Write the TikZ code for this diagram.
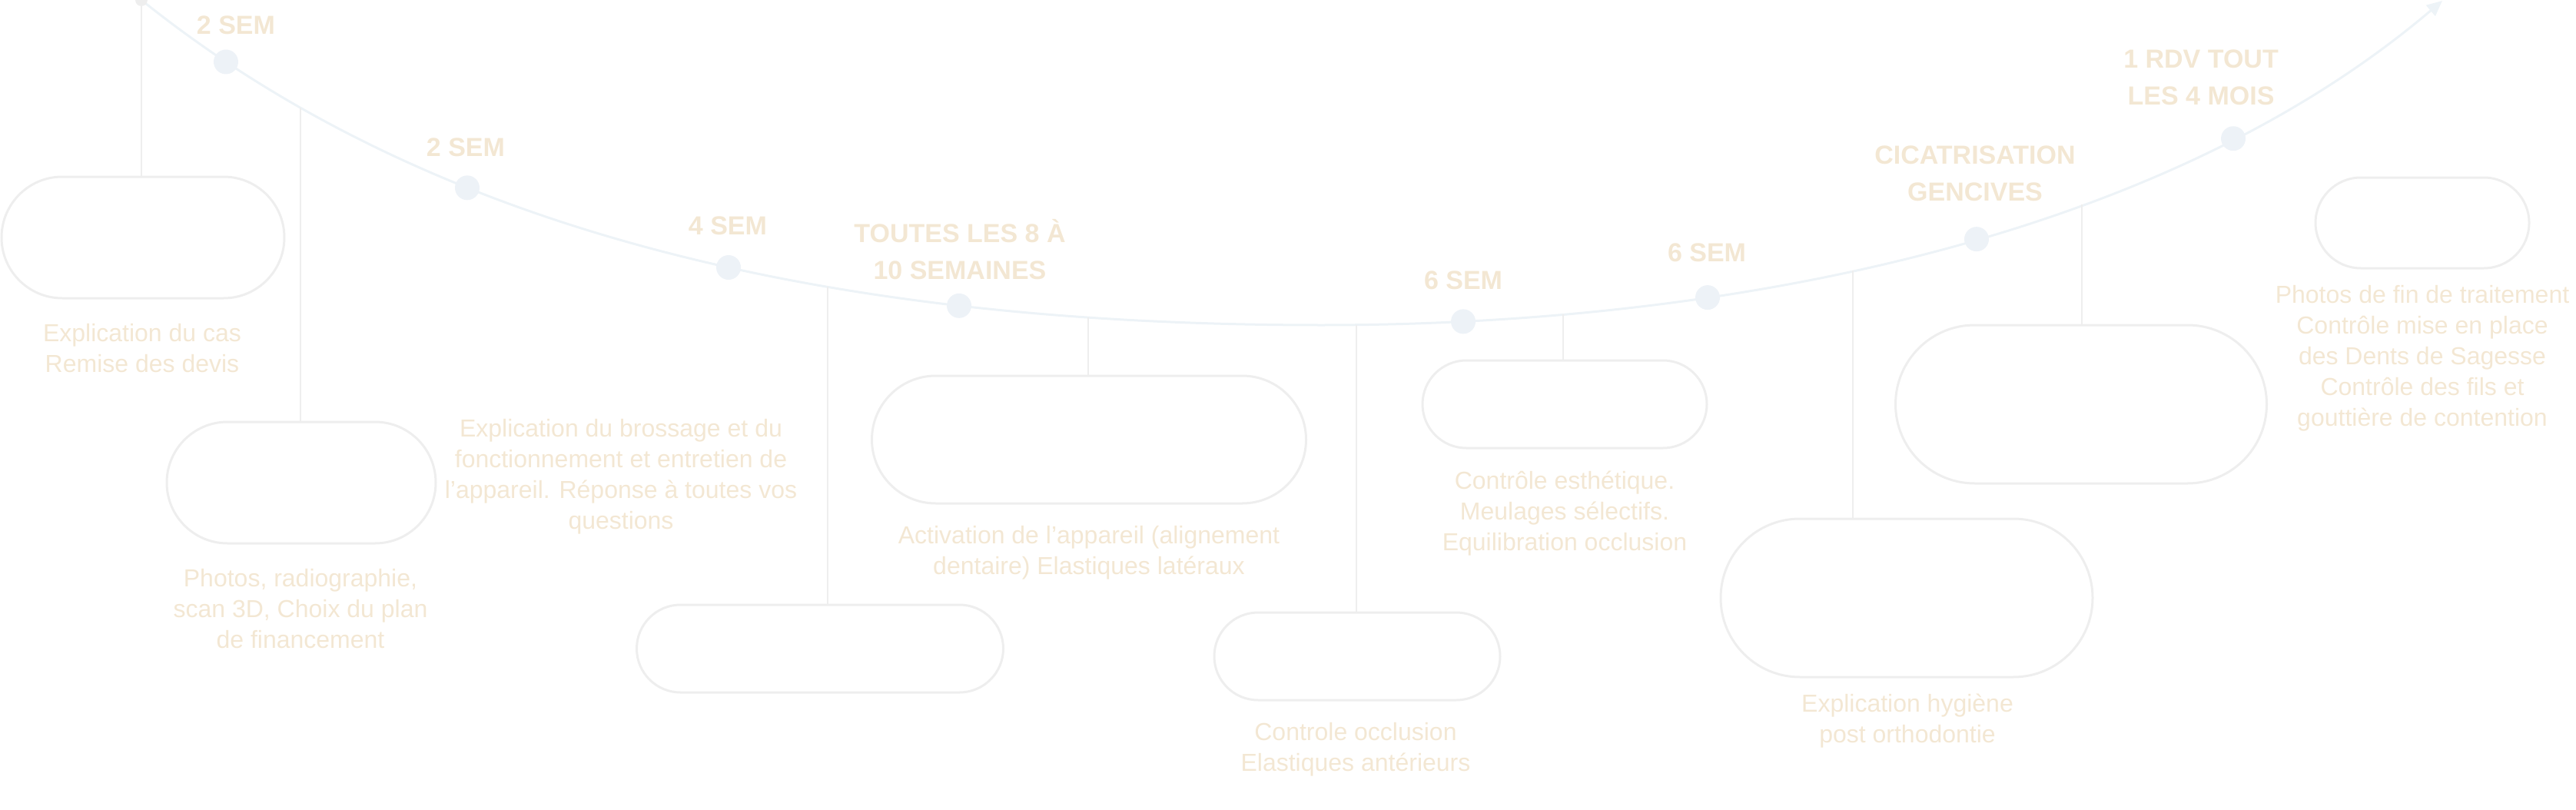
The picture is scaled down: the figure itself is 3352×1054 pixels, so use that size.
\documentclass[tikz,border=0pt]{standalone}
\usepackage{fontspec}
\setmainfont{Liberation Sans}
\usetikzlibrary{shapes.misc,arrows.meta,intersections}
\definecolor{txt}{RGB}{243,231,211}
\definecolor{ln}{RGB}{238,238,238}
\definecolor{cv}{RGB}{237,243,247}
\definecolor{dt}{RGB}{237,242,247}
\begin{document}
\begin{tikzpicture}[x=1pt,y=-1pt,
  box/.style={draw=ln, line width=3pt, rounded rectangle, inner sep=0pt},
  desc/.style={text=txt, align=center, font=\fontsize{32}{40}\selectfont, inner sep=0pt},
  lab/.style={text=txt, align=center, font=\fontsize{34}{48}\selectfont\bfseries, inner sep=0pt},
  dot/.style={circle, fill=dt, minimum size=32pt, inner sep=0pt},
  stem/.style={draw=ln, line width=2pt},
  curve/.style={draw=cv, line width=3pt}]
\useasboundingbox (0,0) rectangle (3352,1054);

% curve
\coordinate (c0) at (184,0);
\coordinate (cmid) at (1720,423);
\coordinate (cend) at (3178,1);
\draw[curve, name path=crv, -{Triangle[length=20pt,width=18pt]}]
  (c0) .. controls (580,318) and (1120,423) .. (cmid)
       .. controls (2220,423) and (2800,322) .. (cend);

% points on the curve (dots p1..p8, stem tops s2..s8)
\foreach \n/\xx in {p1/294, p2/608, p3/948, p4/1248, p5/1904, p6/2222, p7/2572, p8/2906,
                    s2/391, s3/1077, s4/1416, s5/1765, s6/2034, s7/2411, s8/2709} {
  \path[name path=probe] (\xx,-30) -- (\xx,1100);
  \path[name intersections={of=crv and probe, by={\n}}];
}

% boxes
\node[box, minimum width=368pt, minimum height=158pt] (b1) at (186,309) {};
\node[box, minimum width=350pt, minimum height=158pt] (b2) at (392,628) {};
\node[box, minimum width=477pt, minimum height=114pt] (b3) at (1067,844) {};
\node[box, minimum width=565pt, minimum height=166pt] (b4) at (1417,572) {};
\node[box, minimum width=372pt, minimum height=114pt] (b5) at (1766,854) {};
\node[box, minimum width=370pt, minimum height=114pt] (b6) at (2036,526) {};
\node[box, minimum width=484pt, minimum height=206pt] (b7) at (2481,778) {};
\node[box, minimum width=483pt, minimum height=206pt] (b8) at (2708,526) {};
\node[box, minimum width=278pt, minimum height=118pt] (b9) at (3152,290) {};

% stems
\draw[stem] (c0) -- (c0 |- b1.north);
\draw[stem] (s2) -- (s2 |- b2.north);
\draw[stem] (s3) -- (s3 |- b3.north);
\draw[stem] (s4) -- (s4 |- b4.north);
\draw[stem] (s5) -- (s5 |- b5.north);
\draw[stem] (s6) -- (s6 |- b6.north);
\draw[stem] (s7) -- (s7 |- b7.north);
\draw[stem] (s8) -- (s8 |- b8.north);

% dots
\node[circle, fill=ln, minimum size=16pt, inner sep=0pt] (d0) at (c0) {};
\node[dot] (d1) at (p1) {};
\node[dot] (d2) at (p2) {};
\node[dot] (d3) at (p3) {};
\node[dot] (d4) at (p4) {};
\node[dot] (d5) at (p5) {};
\node[dot] (d6) at (p6) {};
\node[dot] (d7) at (p7) {};
\node[dot] (d8) at (p8) {};

% labels
\node[lab] (l1) at (307,33) {2 SEM};
\node[lab] (l2) at (606,192) {2 SEM};
\node[lab] (l3) at (947,294) {4 SEM};
\node[lab] (l4) at (1249,325) {TOUTES LES 8 À\\10 SEMAINES};
\node[lab] (l5) at (1904,365) {6 SEM};
\node[lab] (l6) at (2221,329) {6 SEM};
\node[lab] (l7) at (2570,226) {CICATRISATION\\GENCIVES};
\node[lab] (l8) at (2864,101) {1 RDV TOUT\\LES 4 MOIS};

% descriptions
\node[desc] (t1) at (185,453) {Explication du cas\\Remise des devis};
\node[desc] (t2) at (391,792) {Photos, radiographie,\\scan 3D, Choix du plan\\de financement};
\node[desc] (t3) at (808,620) {Explication du brossage et du\\fonctionnement et entretien de\\l’appareil. Réponse à toutes vos\\questions};
\node[desc] (t4) at (1417,719) {Activation de l’appareil (alignement\\dentaire) Elastiques latéraux};
\node[desc] (t5) at (1764,975) {Controle occlusion\\Elastiques antérieurs};
\node[desc] (t6) at (2036,668) {Contrôle esthétique.\\Meulages sélectifs.\\Equilibration occlusion};
\node[desc] (t7) at (2482,938) {Explication hygiène\\post orthodontie};
\node[desc] (t9) at (3152,466) {Photos de fin de traitement\\Contrôle mise en place\\des Dents de Sagesse\\Contrôle des fils et\\gouttière de contention};
\end{tikzpicture}
\end{document}
